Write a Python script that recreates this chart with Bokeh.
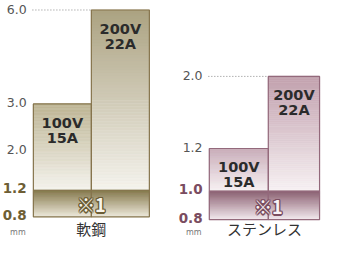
import numpy as np
from bokeh.plotting import figure
from bokeh.layouts import row
from bokeh.models import Range1d
from bokeh.core.properties import value
from bokeh.embed import file_html
from bokeh.resources import INLINE

# ---------------- data ----------------
materials = ["軟鋼", "ステンレス"]
voltages = ["100V", "200V"]
currents = ["15A", "22A"]
steel_max = [3.0, 6.0]            # max thickness (mm) for 100V / 200V
stainless_max = [1.2, 2.0]
steel_band = [0.8, 1.2]           # ※1 range
stainless_band = [0.8, 1.0]
steel_ticks = [0.8, 1.2, 2.0, 3.0, 6.0]
stainless_ticks = [0.8, 1.0, 1.2, 2.0]
steel_tick_labels = ["0.8", "1.2", "2.0", "3.0", "6.0"]
stainless_tick_labels = ["0.8", "1.0", "1.2", "2.0"]
band_label = "※1"
unit_label = "mm"

# ---------------- layout (warped axis: reference rows of tick values) ----------------
steel_rows = [233, 205, 163, 114, 15]
stainless_rows = [236, 206, 161, 85]
steel_edges = [39, 99, 159]
stainless_edges = [221, 282, 335]
CAT_ROW = 245
UNIT_ROW = 249

LATIN = "DejaVu Sans"
CJK = "Noto Sans CJK JP"


def hex2rgb(h):
    h = h.lstrip("#")
    return np.array([int(h[i:i + 2], 16) for i in (0, 2, 4)], dtype=float)


def grad(c0, c1, n):
    a, b = hex2rgb(c0), hex2rgb(c1)
    out = []
    for t in np.linspace(0, 1, n):
        c = a + (b - a) * t
        out.append("#%02x%02x%02x" % tuple(int(round(v)) for v in c))
    return out


def panel(xr, width, edges, ticks, rows, tick_labels, maxv, band, category, pal):
    p = figure(width=width, height=241, x_range=Range1d(*xr), y_range=Range1d(259, 5),
               output_backend="svg", toolbar_location=None, min_border=0)
    p.axis.visible = False
    p.grid.visible = False
    p.outline_line_color = None

    def warp(v):
        return float(np.interp(v, ticks, rows))

    N = 60
    band_top = warp(band[1])
    band_bot = warp(band[0])
    # bar gradients
    for i in range(2):
        yt = warp(maxv[i])
        ys = np.linspace(yt, band_top, N + 1)
        cols = grad(pal["bar_top"][i], pal["bar_bot"], N)
        p.quad(left=edges[i], right=edges[i + 1], top=ys[:-1], bottom=ys[1:],
               fill_color=cols, line_color=cols, line_width=0.6)
    # band gradient
    ys = np.linspace(band_top, band_bot, N + 1)
    cols = grad(pal["band_top"], pal["band_bot"], N)
    p.quad(left=edges[0], right=edges[2], top=ys[:-1], bottom=ys[1:],
           fill_color=cols, line_color=cols, line_width=0.6)
    # outlines
    for i in range(2):
        p.quad(left=edges[i], right=edges[i + 1], top=warp(maxv[i]), bottom=band_bot,
               fill_color=None, line_color=pal["border"], line_width=1.2)
    p.segment(x0=edges[0], x1=edges[2], y0=band_top, y1=band_top,
              line_color=pal["border"], line_width=1.2)
    # leader line for the tallest bar
    top_y = warp(maxv[1])
    p.segment(x0=edges[0] - 1, x1=edges[1], y0=top_y, y1=top_y,
              line_color="#8a8a8a", line_width=1, line_dash="1 2")
    # voltage/current labels
    cx = [(edges[i] + edges[i + 1]) / 2 for i in range(2)]
    p.text(x=cx, y=[warp(v) + 20 for v in maxv], text=voltages,
           text_font=value(LATIN), text_font_style="bold", text_font_size="14.5px",
           text_color="#2b2b2b", text_align="center", text_baseline="alphabetic")
    p.text(x=cx, y=[warp(v) + 35.5 for v in maxv], text=currents,
           text_font=value(LATIN), text_font_style="bold", text_font_size="14.5px",
           text_color="#2b2b2b", text_align="center", text_baseline="alphabetic")
    # band label with a drawn outline
    my = (band_top + band_bot) / 2 + 1
    for dx, dy in [(-1.3, 0), (1.3, 0), (0, -1.3), (0, 1.3),
                   (-1, -1), (1, -1), (-1, 1), (1, 1)]:
        p.text(x=[edges[1]], y=[my], text=[band_label], x_offset=dx, y_offset=dy,
               text_font=value(CJK), text_font_style="bold", text_font_size="18px",
               text_color=pal["mark_line"], text_align="center", text_baseline="middle")
    p.text(x=[edges[1]], y=[my], text=[band_label],
           text_font=value(CJK), text_font_style="bold", text_font_size="18px",
           text_color=pal["mark_fill"], text_align="center", text_baseline="middle")
    # tick labels
    norm = [(warp(t), l) for t, l in zip(ticks, tick_labels) if t > band[1]]
    bold = [(warp(t), l) for t, l in zip(ticks, tick_labels) if t <= band[1]]
    p.text(x=[edges[0] - 7] * len(norm), y=[y - 1 for y, _ in norm], text=[l for _, l in norm],
           text_font=value(LATIN), text_font_size="12.5px", text_color="#555555",
           text_align="right", text_baseline="middle")
    p.text(x=[edges[0] - 7] * len(bold), y=[y - 2 for y, _ in bold], text=[l for _, l in bold],
           text_font=value(LATIN), text_font_style="bold", text_font_size="13.5px",
           text_color=pal["bold_tick"], text_align="right", text_baseline="middle")
    # unit
    p.text(x=[edges[0] - 16], y=[UNIT_ROW], text=[unit_label],
           text_font=value(LATIN), text_font_size="8px", text_color="#777777",
           text_align="center", text_baseline="middle")
    # category
    p.text(x=[(edges[0] + edges[2]) / 2], y=[CAT_ROW], text=[category],
           text_font=value(CJK), text_font_size="15px", text_color="#333333",
           text_align="center", text_baseline="middle")
    return p


steel_pal = dict(bar_top=["#bdb594", "#aca382"], bar_bot="#f4f2ec",
                 band_top="#85784c", band_bot="#ebe7d8", border="#86754d",
                 mark_fill="#f8f5ec", mark_line="#6c5d35", bold_tick="#6e5e35")
stain_pal = dict(bar_top=["#c9adb9", "#c2a1ae"], bar_bot="#f6f0f2",
                 band_top="#8b5f71", band_bot="#f1e8ec", border="#93697b",
                 mark_fill="#f9f3f5", mark_line="#7a4d60", bold_tick="#7a4c60")

p1 = panel((5, 185), 174, steel_edges, steel_ticks, steel_rows, steel_tick_labels,
           steel_max, steel_band, materials[0], steel_pal)
p2 = panel((185, 337), 147, stainless_edges, stainless_ticks, stainless_rows,
           stainless_tick_labels, stainless_max, stainless_band, materials[1], stain_pal)

layout = row(p1, p2, spacing=0)
open("out.html", "w").write(file_html(layout, INLINE))
